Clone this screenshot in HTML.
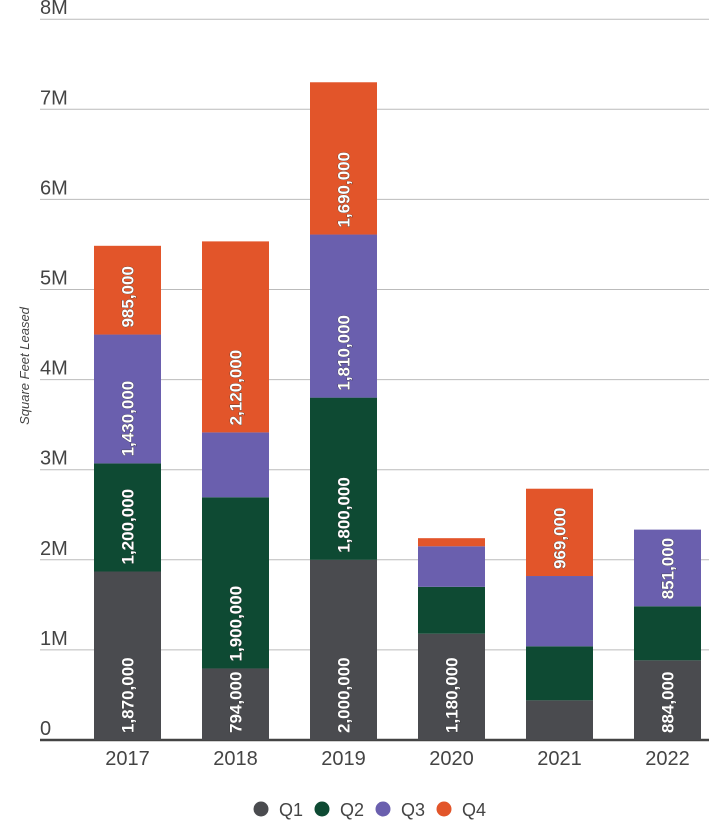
<!DOCTYPE html>
<html><head><meta charset="utf-8">
<style>
body{margin:0;background:#fff;}
svg{display:block;font-family:"Liberation Sans",sans-serif;}
</style></head>
<body>
<svg id="chart" width="709" height="830" xmlns="http://www.w3.org/2000/svg"></svg>
<script>
const years = ["2017","2018","2019","2020","2021","2022"];
const q1 = [1870000, 794000, 2000000, 1180000, 440000, 884000];
const q2 = [1200000, 1900000, 1800000, 520000, 600000, 600000];
const q3 = [1430000, 720000, 1810000, 450000, 780000, 851000];
const q4 = [985000, 2120000, 1690000, 90000, 969000, 0];
const showQ1 = [true, true, true, true, false, true];
const showQ2 = [true, true, true, false, false, false];
const showQ3 = [true, false, true, false, false, true];
const showQ4 = [true, true, true, false, true, false];
const yTicks = [0,1000000,2000000,3000000,4000000,5000000,6000000,7000000,8000000];
const yTickLabels = ["0","1M","2M","3M","4M","5M","6M","7M","8M"];
const seriesNames = ["Q1","Q2","Q3","Q4"];
const colors = ["#4a4b4f","#0e4a33","#6a5fae","#e2552a"];

const svg = document.getElementById('chart');
const NS = "http://www.w3.org/2000/svg";
const y0 = 740, pxPerM = 90.1;
function y(v){ return y0 - v/1000000*pxPerM; }
function xc(i){ return 127.5 + i*108; }
const barW = 67;
function mk(tag, attrs){ const e=document.createElementNS(NS,tag); for(const k in attrs) e.setAttribute(k,attrs[k]); svg.appendChild(e); return e; }

yTicks.forEach((t,i)=>{
  const g = mk('line',{x1:40,x2:709,y1:y(t),y2:y(t),stroke:i===0?'#444':'#bbb','stroke-width':i===0?2.5:1});
  
  
  const tx = mk('text',{x:40,y:y(t)-5,'font-size':20,fill:'#444'});
  tx.textContent = yTickLabels[i];
  
  
});
const yt = mk('text',{x:0,y:0,'font-size':13,'font-style':'italic',fill:'#444','text-anchor':'middle',transform:'translate(29,366) rotate(-90)'});
yt.textContent = "Square Feet Leased";



const series = [q1,q2,q3,q4];
const shows = [showQ1,showQ2,showQ3,showQ4];
years.forEach((yr,i)=>{
  let base = 0;
  series.forEach((s,k)=>{
    const v = s[i];
    if(v<=0) return;
    const r = mk('rect',{x:xc(i)-barW/2,y:y(base+v),width:barW,height:y(base)-y(base+v),fill:colors[k]});
    
    
    if(shows[k][i]){
      const ly = y(base)-7;
      const t = mk('text',{x:0,y:0,'font-size':17,'font-weight':'bold',fill:'#fff',stroke:'#333','stroke-width':0.6,'paint-order':'stroke','text-anchor':'start',transform:`translate(${xc(i)+6},${ly}) rotate(-90)`});
      t.textContent = v.toLocaleString('en-US');
      
      
    }
    base += v;
  });
  const xl = mk('text',{x:xc(i),y:765,'font-size':20,fill:'#444','text-anchor':'middle'});
  xl.textContent = yr;
  
  
});

const legX = [261,322,383,444];
seriesNames.forEach((n,k)=>{
  const c = mk('circle',{cx:legX[k],cy:809,r:7.5,fill:colors[k]});
  
  
  const t = mk('text',{x:legX[k]+18,y:816,'font-size':18,fill:'#444'});
  t.textContent = n;
  
  
});
</script>
</body></html>
